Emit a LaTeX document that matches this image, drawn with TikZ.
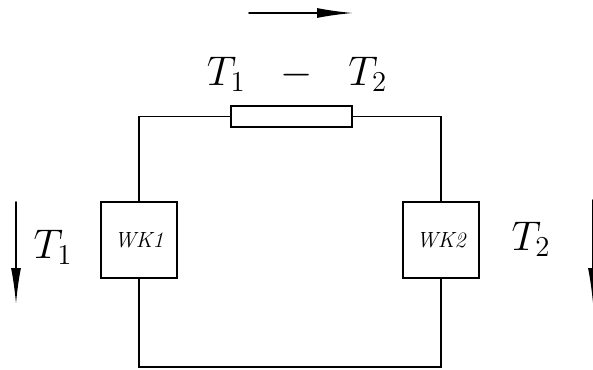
\documentclass[tikz,border=0pt]{standalone}
\usepackage{tikz}
\usetikzlibrary{arrows.meta}
\begin{document}
\begin{tikzpicture}[x=0.5pt,y=-0.5pt,thick,line cap=round]
	\tikzstyle{wk}=[draw,rectangle,minimum width=38pt,minimum height=38pt,inner sep=0pt,font=\fontsize{11}{12}\selectfont\itshape];
	\tikzstyle{widerstand}=[draw,rectangle,minimum width=60.5pt,minimum height=10.5pt,inner sep=0pt];
	\tikzstyle{pfeil}=[-{Latex[length=18pt,width=5pt]}];
	\tikzstyle{temp}=[inner sep=0pt,font=\fontsize{22}{26}\selectfont];
	\useasboundingbox (0,0) rectangle (593,369);
	\coordinate (unten) at (290,367);
	\coordinate (p1a)   at (16,202);
	\coordinate (p1b)   at (16,304);
	\coordinate (p2a)   at (593,200);
	\coordinate (p2b)   at (593,304);
	\coordinate (pqa)   at (249,13);
	\coordinate (pqb)   at (353,13);
	%%
	\node[wk] (wk1) at (139,240) {WK1};
	\node[wk] (wk2) at (441,240) {WK2};
	\node[widerstand] (r) at (291.5,116.5) {};
	%% Leitungen
	\draw (wk1.north) |- (r.west);
	\draw (r.east) -| (wk2.north);
	\draw (wk1.south) |- (unten) -| (wk2.south);
	%% Pfeile
	\draw[pfeil] (pqa) -- (pqb);
	\draw[pfeil] (p1a) -- (p1b);
	\draw[pfeil] (p2a) -- (p2b);
	%% Temperaturen
	\node[temp] (t1) at (53,247) {$T_1$};
	\node[temp] (t2) at (531,239) {$T_2$};
	\node[temp] (dt) at (297,74) {$T_1\hspace{13pt}-\hspace{13pt}T_2$};
\end{tikzpicture}
\end{document}
